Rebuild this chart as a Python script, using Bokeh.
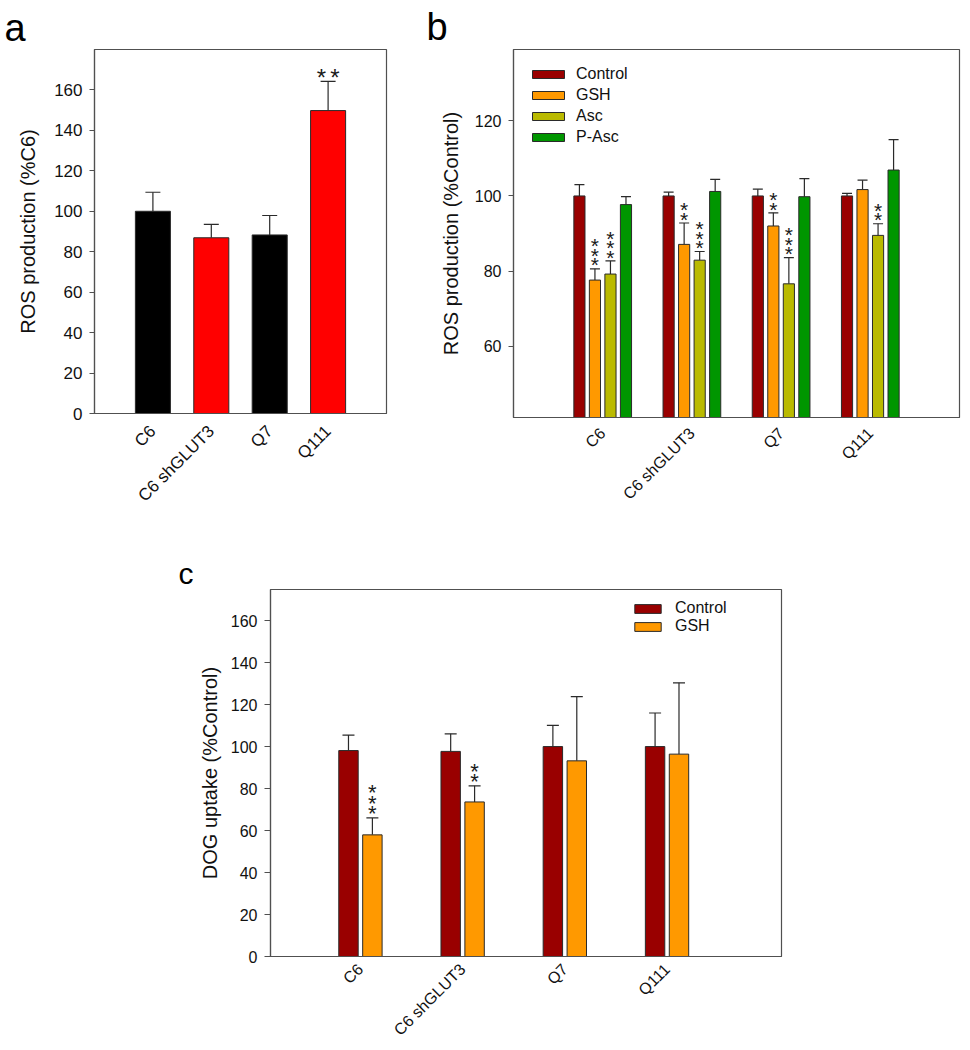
import math
from bokeh.plotting import figure
from bokeh.models import ColumnDataSource, Whisker, TeeHead, FixedTicker, Legend, LegendItem, Range1d
from bokeh.layouts import column, row
from bokeh.embed import file_html
from bokeh.resources import INLINE
from bokeh.core.properties import value

# ---------------- data ----------------
cells = ["C6", "C6 shGLUT3", "Q7", "Q111"]
positions = [1, 2, 3, 4]

# panel a: ROS production (%C6)
a_ros = [100.0, 86.9, 88.3, 149.8]
a_err = [9.4, 6.6, 9.6, 14.4]
a_sig = ["", "", "", "**"]

# panel b: ROS production (%Control)
b_series = ["Control", "GSH", "Asc", "P-Asc"]
b_control = [100.0, 100.0, 100.0, 100.0]
b_control_err = [3.0, 1.0, 1.8, 0.7]
b_gsh = [77.6, 87.1, 92.0, 101.7]
b_gsh_err = [3.0, 5.7, 3.5, 2.5]
b_asc = [79.2, 82.9, 76.6, 89.5]
b_asc_err = [3.5, 2.3, 7.0, 3.1]
b_pasc = [97.7, 101.2, 99.8, 106.9]
b_pasc_err = [2.1, 3.2, 4.8, 8.1]
b_control_sig = ["", "", "", ""]
b_gsh_sig = ["***", "**", "**", ""]
b_asc_sig = ["***", "***", "***", "**"]
b_pasc_sig = ["", "", "", ""]

# panel c: DOG uptake (%Control)
c_series = ["Control", "GSH"]
c_control = [98.2, 97.8, 100.1, 100.1]
c_control_err = [7.4, 8.4, 10.1, 16.0]
c_gsh = [58.0, 73.7, 93.3, 96.5]
c_gsh_err = [8.1, 7.7, 30.6, 34.0]
c_control_sig = ["", "", "", ""]
c_gsh_sig = ["***", "**", "", ""]

a_yticks = [0, 20, 40, 60, 80, 100, 120, 140, 160]
b_yticks = [60, 80, 100, 120]
c_yticks = [0, 20, 40, 60, 80, 100, 120, 140, 160]

# ---------------- style ----------------
FONT = "Liberation Sans"
AX = "#505050"
EDGE = "#2a2a2a"
COL_CTRL = "#990000"
COL_GSH = "#FF9900"
COL_ASC = "#BABA00"
COL_PASC = "#009600"
a_colors = ["#000000", "#FF0000", "#000000", "#FF0000"]


def make_fig(letter, letter_px, letter_off, letter_standoff,
             fw, fh, left, right, top, bottom, xr, yr, yticks, ylabel,
             tick_px, lab_px, xlab_px, tick_len, lab_standoff, xl_standoff):
    p = figure(title=letter, frame_width=fw, frame_height=fh, min_border_left=left,
               min_border_right=right, min_border_top=top, min_border_bottom=bottom,
               x_range=Range1d(*xr), y_range=Range1d(*yr),
               output_backend="svg", toolbar_location=None)
    p.title.text_font = FONT
    p.title.text_font_size = letter_px
    p.title.text_font_style = "normal"
    p.title.text_color = "#000000"
    p.title.align = "left"
    p.title.offset = letter_off
    p.title.standoff = letter_standoff
    p.xgrid.visible = False
    p.ygrid.visible = False
    p.outline_line_color = AX
    p.outline_line_width = 1.2
    p.background_fill_color = "white"
    p.border_fill_color = "white"
    for ax in (p.xaxis[0], p.yaxis[0]):
        ax.axis_line_color = AX
        ax.axis_line_width = 1.2
        ax.minor_tick_line_color = None
        ax.major_label_text_font = FONT
        ax.major_label_text_color = "#111111"
    ya = p.yaxis[0]
    ya.ticker = FixedTicker(ticks=yticks)
    ya.major_tick_in = 0
    ya.major_tick_out = tick_len
    ya.major_tick_line_color = AX
    ya.major_label_text_font_size = tick_px
    ya.major_label_standoff = 7
    ya.axis_label = ylabel
    ya.axis_label_text_font = FONT
    ya.axis_label_text_font_size = lab_px
    ya.axis_label_text_font_style = "normal"
    ya.axis_label_text_color = "#111111"
    ya.axis_label_standoff = lab_standoff
    xa = p.xaxis[0]
    xa.ticker = FixedTicker(ticks=positions)
    xa.major_label_overrides = {k: v for k, v in zip(positions, cells)}
    xa.major_tick_in = 0
    xa.major_tick_out = 0
    xa.major_tick_line_color = None
    xa.major_label_orientation = math.pi / 4
    xa.major_label_text_font_size = xlab_px
    xa.major_label_standoff = xl_standoff
    return p


def add_bars(p, xs, vals, errs, width, colors, cap):
    src = ColumnDataSource(dict(x=xs, top=vals, up=[v + e for v, e in zip(vals, errs)], c=colors))
    r = p.vbar(x="x", top="top", bottom=0, width=width, fill_color="c", line_color=EDGE,
               line_width=1, source=src)
    w = Whisker(source=src, base="x", lower="top", upper="up", dimension="height",
                line_color=EDGE, line_width=1.2,
                upper_head=TeeHead(size=cap, line_color=EDGE, line_width=1.2), lower_head=None)
    p.add_layout(w)
    return r


def add_stars(p, xs, vals, errs, sigs, font_px, lift, step, vertical=True):
    # lift: gap (px) between the error cap and the centre of the lowest star
    X, Y, T, XO, YO = [], [], [], [], []
    for x, v, e, s in zip(xs, vals, errs, sigs):
        n = len(s)
        for i in range(n):
            X.append(x)
            Y.append(v + e)
            T.append("*")
            if vertical:
                XO.append(0)
                YO.append(-lift + 0.175 * font_px - step * i)
            else:
                XO.append((i - (n - 1) / 2) * step)
                YO.append(-lift + 0.175 * font_px)
    src = ColumnDataSource(dict(x=X, y=Y, t=T, xo=XO, yo=YO))
    p.text(x="x", y="y", text="t", x_offset="xo", y_offset="yo", source=src,
           text_font=value(FONT), text_font_size=f"{font_px}px", text_align="center",
           text_baseline="alphabetic", text_color="#1a1a1a")


# ---------------- panel a ----------------
fa = make_fig("a", "38px", -90, 2, 292, 364, 94, 37, 49, 103, (0, 5), (0, 180), a_yticks,
              "ROS production (%C6)", "17px", "20px", "17px", 5, 12, 15)
add_bars(fa, positions, a_ros, a_err, 0.6, a_colors, 15)
add_stars(fa, positions, a_ros, a_err, a_sig, 24, 8.5, 13.5, vertical=False)

# ---------------- panel b ----------------
FB_H = 368
fb = make_fig("b", "38px", -87, 3, 446, FB_H, 90, 3, 49, 99, (0, 5), (41, 139), b_yticks,
              "ROS production (%Control)", "16px", "20px", "16px", 5, 10, 13)
b_offsets = [-0.261, -0.087, 0.087, 0.261]
b_vals = [b_control, b_gsh, b_asc, b_pasc]
b_errs = [b_control_err, b_gsh_err, b_asc_err, b_pasc_err]
b_sigs = [b_control_sig, b_gsh_sig, b_asc_sig, b_pasc_sig]
b_cols = [COL_CTRL, COL_GSH, COL_ASC, COL_PASC]
b_items = []
for name, off, vals, errs, sigs, col in zip(b_series, b_offsets, b_vals, b_errs, b_sigs, b_cols):
    xs = [x + off for x in positions]
    r = add_bars(fb, xs, vals, errs, 0.125, [col] * len(xs), 10)
    add_stars(fb, xs, vals, errs, sigs, 21, 7.5, 9.5)
    b_items.append(LegendItem(label=name, renderers=[r]))
lb = Legend(items=b_items, location=(15, FB_H - 15 - 83), glyph_width=40, glyph_height=10,
            label_height=20, spacing=1, label_standoff=8, padding=0, margin=0,
            border_line_color=None, background_fill_alpha=0,
            label_text_font=FONT, label_text_font_size="16px", label_text_color="#111111")
fb.add_layout(lb)

# ---------------- panel c ----------------
FC_H = 367
fc = make_fig("c", "30px", -92, 0, 511, FC_H, 270, 40, 73, 92, (0.12, 5.12), (0, 175), c_yticks,
              "DOG uptake (%Control)", "16px", "20px", "16px", 6, 7, 10)
c_offsets = [-0.117, 0.117]
c_vals = [c_control, c_gsh]
c_errs = [c_control_err, c_gsh_err]
c_sigs = [c_control_sig, c_gsh_sig]
c_cols = [COL_CTRL, COL_GSH]
c_items = []
for name, off, vals, errs, sigs, col in zip(c_series, c_offsets, c_vals, c_errs, c_sigs, c_cols):
    xs = [x + off for x in positions]
    r = add_bars(fc, xs, vals, errs, 0.19, [col] * len(xs), 12)
    add_stars(fc, xs, vals, errs, sigs, 22, 8, 10.5)
    c_items.append(LegendItem(label=name, renderers=[r]))
lc = Legend(items=c_items, location=(361, FC_H - 10 - 36), glyph_width=33, glyph_height=11,
            label_height=18, spacing=0, label_standoff=11, padding=0, margin=0,
            border_line_color=None, background_fill_alpha=0,
            label_text_font=FONT, label_text_font_size="16px", label_text_color="#111111")
fc.add_layout(lc)

layout = column(row(fa, fb), row(fc))
open("out.html", "w").write(file_html(layout, INLINE))
